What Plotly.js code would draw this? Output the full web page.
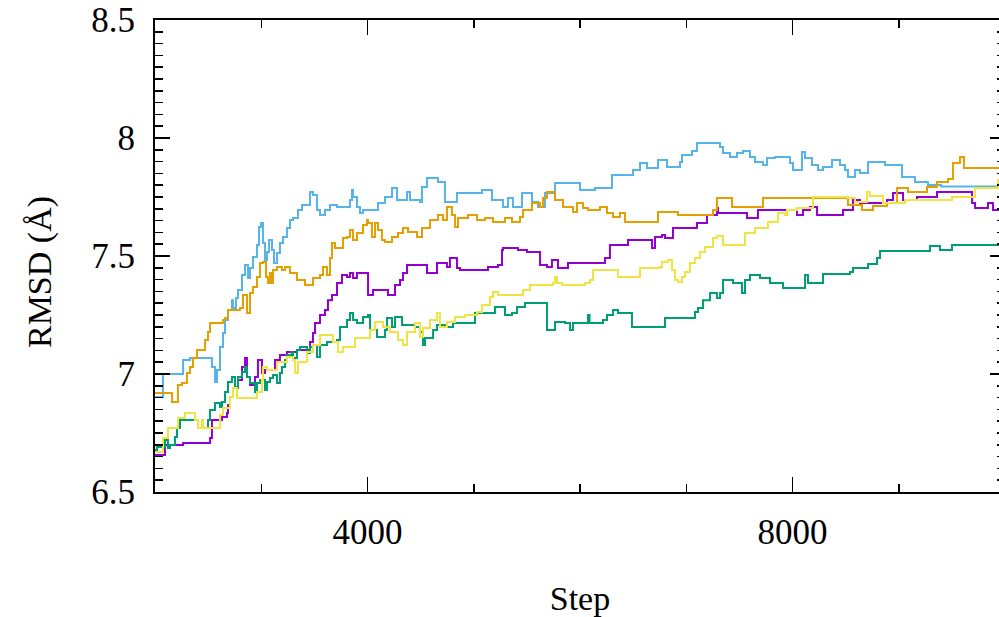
<!DOCTYPE html>
<html>
<head>
<meta charset="utf-8">
<script src="https://cdn.plot.ly/plotly-3.0.1.min.js"></script>
<style>
html, body { margin: 0; padding: 0; overflow: hidden; background: #fff; }
#chart { width: 1006px; height: 617px; }
</style>
</head>
<body>
<div id="chart"></div>
<script>
// Step values (x = step, y = RMSD in Å)
const purpleX = [2000,2094,2264,2518,2536,2631,2678,2687,2706,2734,2781,2819,2847,2866,2894,2941,2969,3007,3035,3129,3176,3242,3336,3459,3487,3506,3553,3600,3628,3666,3713,3760,3807,3835,3864,3901,4005,4052,4193,4259,4306,4334,4372,4560,4654,4748,4776,4842,4871,5134,5228,5266,5275,5416,5501,5624,5689,5736,5793,5887,6235,6282,6452,6678,6706,6772,6800,6875,7101,7195,7289,7299,7572,7675,8042,8099,8165,8231,8475,8569,8635,8889,8946,9040,9172,9360,9690,9718,9840,9887,10000];
const purpleY = [6.657,6.699,6.708,6.729,6.805,6.818,6.835,6.869,6.903,6.941,6.975,7.030,7.068,6.987,6.953,6.987,7.059,7.004,7.017,7.059,7.080,7.093,7.102,7.136,7.174,7.216,7.250,7.271,7.313,7.335,7.386,7.419,7.411,7.428,7.407,7.428,7.335,7.356,7.335,7.377,7.398,7.428,7.462,7.428,7.470,7.453,7.491,7.449,7.441,7.453,7.462,7.525,7.534,7.525,7.517,7.462,7.453,7.483,7.449,7.470,7.491,7.547,7.568,7.534,7.580,7.589,7.576,7.619,7.640,7.674,7.703,7.682,7.661,7.695,7.674,7.695,7.708,7.674,7.695,7.737,7.725,7.737,7.767,7.737,7.750,7.771,7.725,7.703,7.725,7.695,7.695];

const greenX = [2000,2019,2094,2122,2141,2188,2207,2235,2405,2499,2518,2565,2612,2631,2659,2687,2725,2753,2781,2819,2847,2866,2894,2941,2960,2988,3035,3054,3082,3111,3148,3176,3195,3224,3242,3289,3299,3336,3365,3431,3459,3487,3525,3553,3619,3713,3741,3807,3835,3864,3901,3958,4005,4024,4089,4165,4184,4231,4259,4325,4447,4494,4522,4541,4617,4654,4729,4805,5012,5200,5294,5360,5407,5482,5689,5765,5859,5906,5934,6075,6090,6216,6254,6311,6358,6489,6800,7082,7111,7158,7224,7289,7318,7346,7440,7525,7553,7600,7694,7788,7911,8118,8146,8287,8541,8569,8711,8795,8824,9294,9388,9501,10000];
const greenY = [6.678,6.691,6.720,6.686,6.699,6.733,6.771,6.805,6.771,6.805,6.847,6.877,6.860,6.881,6.924,6.966,6.987,6.945,6.987,7.008,7.030,6.987,6.962,6.924,6.962,6.975,6.932,6.966,6.983,6.996,6.962,7.004,7.030,7.059,7.080,7.093,7.068,7.102,7.114,7.089,7.114,7.123,7.072,7.123,7.136,7.144,7.199,7.229,7.258,7.229,7.216,7.241,7.250,7.186,7.157,7.186,7.237,7.199,7.241,7.208,7.199,7.178,7.123,7.153,7.186,7.208,7.199,7.216,7.258,7.284,7.250,7.258,7.284,7.301,7.186,7.220,7.216,7.186,7.216,7.250,7.216,7.229,7.250,7.271,7.258,7.199,7.237,7.263,7.280,7.313,7.343,7.322,7.343,7.398,7.386,7.343,7.398,7.419,7.407,7.386,7.364,7.419,7.386,7.424,7.432,7.449,7.466,7.491,7.521,7.542,7.525,7.547,7.547];

const blueX = [2000,2075,2264,2329,2536,2565,2584,2612,2640,2659,2687,2725,2734,2762,2781,2819,2847,2875,2894,2922,2960,2979,2998,3016,3035,3054,3073,3101,3120,3148,3176,3205,3242,3271,3299,3346,3384,3459,3487,3525,3553,3600,3647,3713,3835,3854,3864,3901,3929,3958,4099,4165,4231,4278,4372,4400,4494,4513,4560,4664,4729,4842,5078,5172,5275,5322,5369,5454,5548,5605,5671,5765,6000,6141,6301,6499,6565,6631,6734,6819,6941,6960,7054,7101,7318,7346,7412,7478,7534,7600,7647,7722,7760,7835,7976,8005,8089,8118,8184,8240,8287,8372,8447,8494,8522,8588,8635,8711,8871,9031,9153,9275,9400,10000];
const blueY = [6.903,7.000,7.059,7.068,7.030,6.966,7.017,7.114,7.174,7.229,7.271,7.313,7.280,7.322,7.356,7.419,7.462,7.407,7.449,7.496,7.547,7.623,7.640,7.555,7.483,7.517,7.568,7.525,7.470,7.513,7.555,7.580,7.619,7.653,7.661,7.695,7.716,7.771,7.758,7.695,7.674,7.695,7.716,7.708,7.737,7.780,7.750,7.708,7.682,7.695,7.725,7.750,7.788,7.737,7.771,7.737,7.729,7.792,7.831,7.814,7.729,7.767,7.780,7.737,7.708,7.746,7.708,7.767,7.729,7.708,7.767,7.809,7.780,7.788,7.843,7.864,7.894,7.873,7.907,7.877,7.898,7.928,7.945,7.979,7.962,7.936,7.919,7.936,7.945,7.919,7.898,7.886,7.915,7.919,7.894,7.864,7.941,7.915,7.886,7.864,7.877,7.907,7.886,7.864,7.835,7.864,7.852,7.898,7.886,7.835,7.814,7.801,7.795,7.795];

const orangeX = [2000,2160,2216,2254,2301,2329,2358,2395,2471,2499,2518,2640,2659,2687,2800,2828,2866,2894,2922,2960,2988,3016,3045,3064,3082,3101,3111,3148,3195,3224,3271,3336,3412,3487,3553,3581,3619,3647,3666,3694,3769,3807,3835,3864,3901,3958,3995,4005,4042,4071,4099,4136,4165,4231,4287,4334,4381,4466,4513,4588,4664,4711,4748,4795,4824,4852,4946,5031,5106,5181,5294,5360,5435,5464,5548,5624,5652,5689,5765,5840,5934,5972,6028,6075,6188,6254,6311,6376,6424,6734,6922,7252,7289,7431,7722,8522,8654,8758,8889,8984,9087,9266,9360,9464,9511,9576,9614,10000];
const orangeY = [6.919,6.881,6.953,6.962,7.004,7.030,7.068,7.102,7.144,7.178,7.216,7.229,7.237,7.271,7.280,7.335,7.258,7.343,7.369,7.411,7.470,7.475,7.411,7.386,7.428,7.386,7.441,7.453,7.441,7.453,7.428,7.398,7.377,7.407,7.419,7.453,7.419,7.491,7.555,7.534,7.576,7.580,7.610,7.568,7.597,7.631,7.653,7.640,7.580,7.640,7.610,7.568,7.559,7.580,7.597,7.619,7.602,7.580,7.619,7.653,7.674,7.653,7.708,7.674,7.623,7.661,7.674,7.653,7.661,7.644,7.661,7.644,7.665,7.695,7.725,7.708,7.746,7.771,7.737,7.708,7.686,7.725,7.703,7.695,7.708,7.682,7.665,7.682,7.644,7.686,7.674,7.695,7.746,7.708,7.746,7.716,7.695,7.712,7.725,7.788,7.771,7.792,7.814,7.826,7.894,7.919,7.873,7.873];

const yellowX = [2000,2075,2122,2216,2282,2376,2405,2442,2452,2612,2640,2706,2734,2772,2960,3007,3016,3054,3148,3242,3299,3318,3346,3431,3487,3553,3675,3722,3769,3882,4024,4071,4146,4212,4287,4334,4372,4447,4494,4522,4588,4654,4682,4748,4824,4918,5031,5078,5153,5181,5228,5464,5529,5746,5765,5783,5831,6047,6094,6122,6358,6565,6753,6772,6828,6866,6894,6922,6960,6988,7035,7082,7129,7176,7252,7289,7346,7553,7647,7769,7864,7929,7948,8042,8193,8522,8588,8701,8729,8852,9059,9501,9718,9934,10000];
const yellowY = [6.669,6.729,6.771,6.814,6.835,6.805,6.771,6.805,6.771,6.826,6.856,6.903,6.941,6.898,6.924,6.975,7.030,7.017,7.051,7.072,7.059,7.004,7.051,7.093,7.123,7.165,7.136,7.093,7.114,7.153,7.186,7.220,7.199,7.178,7.144,7.123,7.178,7.216,7.157,7.195,7.229,7.258,7.199,7.220,7.241,7.250,7.263,7.292,7.326,7.347,7.335,7.356,7.377,7.386,7.411,7.386,7.377,7.386,7.398,7.441,7.411,7.449,7.453,7.475,7.483,7.441,7.398,7.390,7.411,7.432,7.470,7.491,7.517,7.538,7.576,7.585,7.547,7.597,7.619,7.644,7.682,7.674,7.695,7.703,7.750,7.746,7.729,7.771,7.754,7.725,7.737,7.750,7.788,7.822,7.822];

const seriesColors = ['#9400d3', '#009e73', '#56b4e9', '#e69f00', '#f0e442'];
const xTitle = 'Step';
const yTitle = 'RMSD (Å)';

const allX = [purpleX, greenX, blueX, orangeX, yellowX];
const allY = [purpleY, greenY, blueY, orangeY, yellowY];

const traces = allX.map((xs, i) => ({
  x: xs, y: allY[i], type: 'scatter', mode: 'lines',
  line: {shape: 'hv', color: seriesColors[i], width: 2},
  hoverinfo: 'skip', showlegend: false
}));

const fontFam = 'Liberation Serif';
const axisCommon = {
  showgrid: false, zeroline: false, showline: true, linecolor: '#000', linewidth: 2,
  mirror: 'allticks', ticks: 'inside', tickcolor: '#000', tickwidth: 1.5, ticklen: 15,
  tickfont: {family: fontFam, size: 35, color: '#000'}, automargin: false
};

const layout = {
  width: 1006, height: 617,
  margin: {l: 155, r: 1, t: 20, b: 125},
  paper_bgcolor: '#fff', plot_bgcolor: '#fff',
  font: {family: fontFam, color: '#000'},
  xaxis: Object.assign({}, axisCommon, {
    range: [2000, 10000], tick0: 0, dtick: 4000, tickformat: 'd', ticklabelstandoff: 8,
    minor: {dtick: 1000, ticks: 'inside', ticklen: 8, tickcolor: '#000', tickwidth: 1.5},
    title: {text: xTitle, font: {family: fontFam, size: 34, color: '#000'}, standoff: 36}
  }),
  yaxis: Object.assign({}, axisCommon, {
    range: [6.5, 8.5], tick0: 6.5, dtick: 0.5, ticklabelstandoff: 11,
    minor: {dtick: 0.05, ticks: 'inside', ticklen: 8, tickcolor: '#000', tickwidth: 1.5}
  }),
  annotations: [{
    text: yTitle, xref: 'paper', yref: 'paper', x: -0.1353, y: 0.466,
    xanchor: 'center', yanchor: 'middle', textangle: -90, showarrow: false,
    font: {family: fontFam, size: 34, color: '#000'}
  }]
};

Plotly.newPlot('chart', traces, layout, {staticPlot: true, displayModeBar: false});
</script>
</body>
</html>
